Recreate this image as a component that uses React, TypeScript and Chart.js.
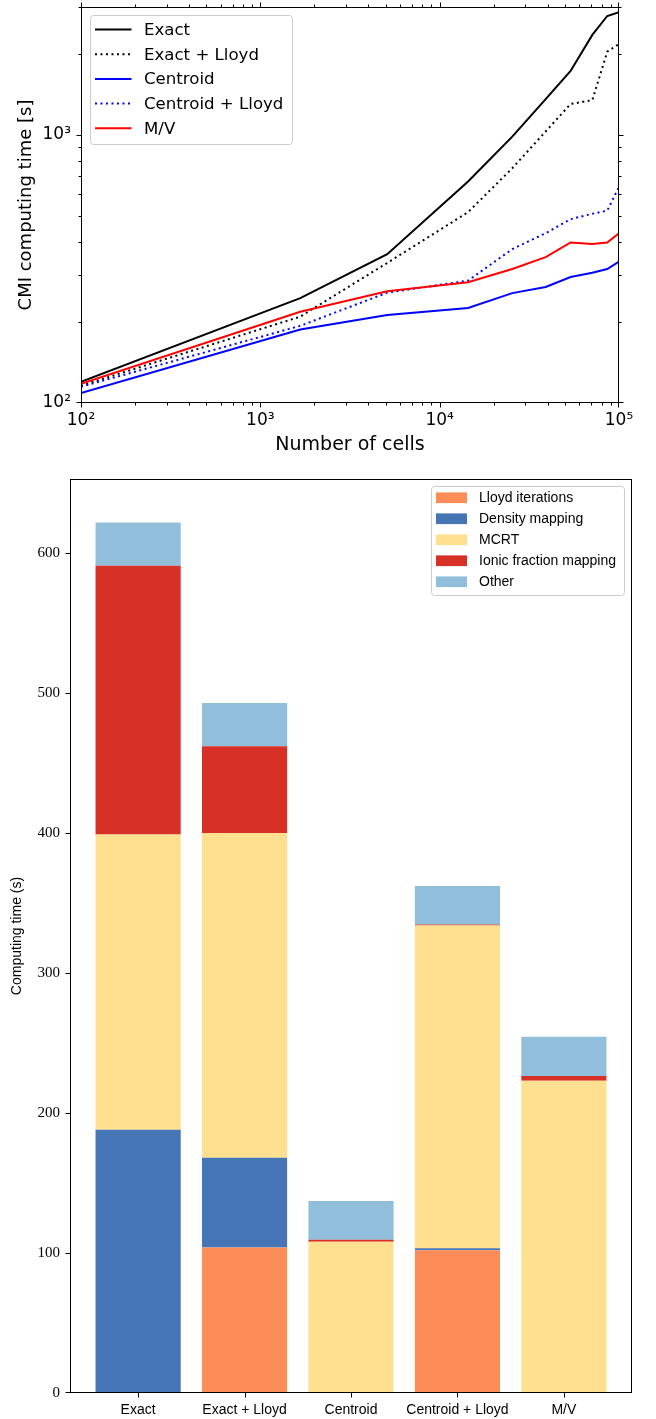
import React, { useEffect, useRef } from 'react';
import { Chart, registerables } from 'chart.js';

Chart.register(...registerables);

// ---------------- Top chart data (log–log lines) ----------------
const cellCounts = [100, 1670, 5100, 14400, 25400, 39000, 53700, 71000, 86000, 100000];
const exactTime = [120, 246, 359, 670, 985, 1360, 1732, 2360, 2777, 2870];
const exactLloydTime = [116, 210, 333, 515, 751, 1030, 1304, 1348, 2044, 2184];
const centroidTime = [109, 188, 213, 226, 257, 271, 295, 306, 316, 337];
const centroidLloydTime = [115, 194, 258, 286, 375, 430, 485, 508, 522, 640];
const mvTime = [118, 219, 261, 282, 316, 350, 397, 392, 397, 430];
const lineLabels = ['Exact', 'Exact + Lloyd', 'Centroid', 'Centroid + Lloyd', 'M/V'];
const xLimits = [100, 100000];
const yLimits = [100, 3000];

// ---------------- Bottom chart data (stacked bars) ----------------
const methods = ['Exact', 'Exact + Lloyd', 'Centroid', 'Centroid + Lloyd', 'M/V'];
const lloydIterations = [0, 104, 0, 102, 0];
const densityMapping = [188, 64, 0, 1.5, 0];
const mcrt = [211, 232, 108, 230.5, 223];
const ionicFractionMapping = [192, 62, 1.4, 0.7, 3.5];
const other = [31, 31, 27.7, 27.5, 28];
const barLabels = ['Lloyd iterations', 'Density mapping', 'MCRT', 'Ionic fraction mapping', 'Other'];
const barTickValues = [0, 100, 200, 300, 400, 500, 600];
const barYMax = 653;

// ---------------- styles ----------------
const lineStyles = [
  { color: '#000000', dash: [] as number[] },
  { color: '#000000', dash: [2, 3.5] },
  { color: '#0000ff', dash: [] as number[] },
  { color: '#0000ff', dash: [2, 3.5] },
  { color: '#ff0000', dash: [] as number[] },
];
const barColors = ['#fc8d59', '#4575b4', '#fee090', '#d73027', '#91bfdb'];

const SUP = '⁰¹²³⁴⁵⁶⁷⁸⁹';
function isPow10(v: number) {
  const l = Math.log10(v);
  return Math.abs(l - Math.round(l)) < 1e-9;
}
function pow10Label(v: number) {
  const e = Math.round(Math.log10(v));
  return '10' + String(e).split('').map((d) => SUP[+d]).join('');
}
function logTickValues(min: number, max: number) {
  const out: number[] = [];
  for (let e = Math.floor(Math.log10(min)); e <= Math.ceil(Math.log10(max)); e++) {
    for (let m = 1; m < 10; m++) {
      const v = m * Math.pow(10, e);
      if (v >= min * (1 - 1e-9) && v <= max * (1 + 1e-9)) out.push(v);
    }
  }
  return out;
}

function roundRectPath(ctx: CanvasRenderingContext2D, x: number, y: number, w: number, h: number, r: number) {
  ctx.beginPath();
  ctx.moveTo(x + r, y);
  ctx.lineTo(x + w - r, y);
  ctx.arcTo(x + w, y, x + w, y + r, r);
  ctx.lineTo(x + w, y + h - r);
  ctx.arcTo(x + w, y + h, x + w - r, y + h, r);
  ctx.lineTo(x + r, y + h);
  ctx.arcTo(x, y + h, x, y + h - r, r);
  ctx.lineTo(x, y + r);
  ctx.arcTo(x, y, x + r, y, r);
  ctx.closePath();
}

function frameBox(a: any) {
  const L = Math.floor(a.left) + 0.5;
  const R = Math.ceil(a.right) - 0.5;
  const T = Math.floor(a.top) + 0.5;
  const B = Math.ceil(a.bottom) - 0.5;
  return { L, R, T, B };
}
function snap(p: number, lo: number, hi: number) {
  return Math.min(Math.max(Math.round(p) + 0.5, lo), hi);
}

const topFramePlugin = {
  id: 'topFrame',
  afterDraw(chart: any) {
    const { ctx, chartArea } = chart;
    const xs = chart.scales.x;
    const ys = chart.scales.y;
    const { L, R, T, B } = frameBox(chartArea);
    ctx.save();
    ctx.strokeStyle = '#000';
    ctx.lineWidth = 1;
    ctx.setLineDash([]);
    ctx.strokeRect(L, T, R - L, B - T);
    ctx.beginPath();
    for (const t of xs.ticks) {
      const len = isPow10(t.value) ? 5 : 3;
      const p = snap(xs.getPixelForValue(t.value), L, R);
      ctx.moveTo(p, B); ctx.lineTo(p, B + len);
      ctx.moveTo(p, T); ctx.lineTo(p, T - len);
    }
    for (const t of ys.ticks) {
      const len = isPow10(t.value) ? 5 : 3;
      const p = snap(ys.getPixelForValue(t.value), T, B);
      ctx.moveTo(L, p); ctx.lineTo(L - len, p);
      ctx.moveTo(R, p); ctx.lineTo(R + len, p);
    }
    ctx.stroke();

    // legend
    const bx = 90.5, by = 15.5, bw = 202, bh = 129;
    roundRectPath(ctx, bx, by, bw, bh, 3);
    ctx.fillStyle = 'rgba(255,255,255,0.8)';
    ctx.fill();
    ctx.strokeStyle = '#cccccc';
    ctx.stroke();
    ctx.font = '16.6px "DejaVu Sans"';
    ctx.textBaseline = 'middle';
    ctx.textAlign = 'left';
    chart.data.datasets.forEach((ds: any, i: number) => {
      const yc = 29.5 + i * 24.7;
      ctx.beginPath();
      ctx.strokeStyle = ds.borderColor;
      ctx.lineWidth = ds.borderWidth;
      ctx.setLineDash(ds.borderDash || []);
      ctx.moveTo(95, yc);
      ctx.lineTo(131.5, yc);
      ctx.stroke();
      ctx.setLineDash([]);
      ctx.fillStyle = '#000';
      ctx.fillText(ds.label, 144, yc + 1);
    });
    ctx.restore();
  },
};

const barFramePlugin = {
  id: 'barFrame',
  afterDraw(chart: any) {
    const { ctx, chartArea } = chart;
    const xs = chart.scales.x;
    const ys = chart.scales.y;
    const { L, R, T, B } = frameBox(chartArea);
    ctx.save();
    ctx.strokeStyle = '#000';
    ctx.lineWidth = 1;
    ctx.strokeRect(L, T, R - L, B - T);
    ctx.beginPath();
    for (const t of xs.ticks) {
      const p = snap(xs.getPixelForValue(t.value), L, R);
      ctx.moveTo(p, B); ctx.lineTo(p, B + 5);
    }
    for (const t of ys.ticks) {
      const p = snap(ys.getPixelForValue(t.value), T, B);
      ctx.moveTo(L, p); ctx.lineTo(L - 5, p);
    }
    ctx.stroke();

    // legend
    const bx = 431.5, by = 21.5, bw = 193, bh = 109;
    roundRectPath(ctx, bx, by, bw, bh, 3);
    ctx.fillStyle = 'rgba(255,255,255,0.8)';
    ctx.fill();
    ctx.strokeStyle = '#cccccc';
    ctx.stroke();
    ctx.font = '14px "Liberation Sans"';
    ctx.textBaseline = 'middle';
    ctx.textAlign = 'left';
    chart.data.datasets.forEach((ds: any, i: number) => {
      const yc = 32.7 + i * 21;
      ctx.fillStyle = ds.backgroundColor;
      ctx.fillRect(436, yc - 5.3, 31, 10.7);
      ctx.fillStyle = '#000';
      ctx.fillText(ds.label, 479, yc + 0.5);
    });
    ctx.restore();
  },
};

export default function App() {
  const topRef = useRef<HTMLCanvasElement>(null);
  const botRef = useRef<HTMLCanvasElement>(null);

  useEffect(() => {
    const lineSeries = [exactTime, exactLloydTime, centroidTime, centroidLloydTime, mvTime];
    const top = new Chart(topRef.current as HTMLCanvasElement, {
      type: 'line',
      data: {
        datasets: lineSeries.map((vals, i) => ({
          label: lineLabels[i],
          data: cellCounts.map((c, j) => ({ x: c, y: vals[j] })),
          borderColor: lineStyles[i].color,
          backgroundColor: lineStyles[i].color,
          borderDash: lineStyles[i].dash,
          borderWidth: 2,
          pointRadius: 0,
          tension: 0,
          fill: false,
          order: lineSeries.length - i,
        })),
      },
      options: {
        responsive: false,
        animation: false,
        devicePixelRatio: 1,
        layout: { padding: { left: 0, right: 37, top: 7, bottom: 0 } },
        plugins: { legend: { display: false }, tooltip: { enabled: false } },
        scales: {
          x: {
            type: 'logarithmic',
            min: xLimits[0],
            max: xLimits[1],
            afterBuildTicks: (s: any) => {
              s.ticks = logTickValues(xLimits[0], xLimits[1]).map((v) => ({ value: v }));
            },
            afterFit: (s: any) => {
              s.height = 62;
              s.paddingLeft = 0;
              s.paddingRight = 0;
            },
            grid: { display: false, drawTicks: false, tickLength: 0 },
            border: { display: false },
            ticks: {
              autoSkip: false,
              maxRotation: 0,
              minRotation: 0,
              padding: 7,
              color: '#000',
              font: { family: 'DejaVu Sans', size: 17 },
              callback: (v: any) => (isPow10(Number(v)) ? pow10Label(Number(v)) : ''),
            },
            title: {
              display: true,
              text: 'Number of cells',
              color: '#000',
              font: { family: 'DejaVu Sans', size: 19 },
              padding: { top: 0, bottom: 9 },
            },
          },
          y: {
            type: 'logarithmic',
            min: yLimits[0],
            max: yLimits[1],
            afterBuildTicks: (s: any) => {
              s.ticks = logTickValues(yLimits[0], yLimits[1]).map((v) => ({ value: v }));
            },
            afterFit: (s: any) => {
              s.width = 81;
              s.paddingTop = 0;
              s.paddingBottom = 0;
            },
            grid: { display: false, drawTicks: false, tickLength: 0 },
            border: { display: false },
            ticks: {
              autoSkip: false,
              padding: 10,
              color: '#000',
              font: { family: 'DejaVu Sans', size: 17 },
              callback: (v: any) => (isPow10(Number(v)) ? pow10Label(Number(v)) : ''),
            },
            title: {
              display: true,
              text: 'CMI computing time [s]',
              color: '#000',
              font: { family: 'DejaVu Sans', size: 18 },
              padding: { top: 16, bottom: 0 },
            },
          },
        },
      },
      plugins: [topFramePlugin],
    } as any);

    const barSeries = [lloydIterations, densityMapping, mcrt, ionicFractionMapping, other];
    const bottom = new Chart(botRef.current as HTMLCanvasElement, {
      type: 'bar',
      data: {
        datasets: barSeries.map((vals, i) => ({
          label: barLabels[i],
          data: vals.map((v, j) => ({ x: j, y: v })),
          backgroundColor: barColors[i],
          borderWidth: 0,
          categoryPercentage: 1,
          barPercentage: 0.8,
          stack: 'time',
        })),
      },
      options: {
        responsive: false,
        animation: false,
        devicePixelRatio: 1,
        layout: { padding: { left: 0, right: 24, top: 14, bottom: 0 } },
        plugins: { legend: { display: false }, tooltip: { enabled: false } },
        scales: {
          x: {
            type: 'linear',
            min: -0.64,
            max: methods.length - 1 + 0.64,
            offset: false,
            stacked: true,
            afterBuildTicks: (s: any) => {
              s.ticks = methods.map((_, i) => ({ value: i }));
            },
            afterFit: (s: any) => {
              s.height = 26;
              s.paddingLeft = 0;
              s.paddingRight = 0;
            },
            grid: { display: false, drawTicks: false, tickLength: 0 },
            border: { display: false },
            ticks: {
              autoSkip: false,
              maxRotation: 0,
              minRotation: 0,
              padding: 9,
              color: '#000',
              font: { family: 'Liberation Sans', size: 14 },
              callback: (v: any) => methods[Math.round(Number(v))] ?? '',
            },
          },
          y: {
            stacked: true,
            min: 0,
            max: barYMax,
            afterBuildTicks: (s: any) => {
              s.ticks = barTickValues.map((v) => ({ value: v }));
            },
            afterFit: (s: any) => {
              s.width = 70;
              s.paddingTop = 0;
              s.paddingBottom = 0;
            },
            grid: { display: false, drawTicks: false, tickLength: 0 },
            border: { display: false },
            ticks: {
              autoSkip: false,
              padding: 10,
              color: '#000',
              font: { family: 'Liberation Serif', size: 15 },
              callback: (v: any) => String(v),
            },
            title: {
              display: true,
              text: 'Computing time (s)',
              color: '#000',
              font: { family: 'Liberation Sans', size: 14 },
              padding: { top: 9, bottom: 0 },
            },
          },
        },
      },
      plugins: [barFramePlugin],
    } as any);

    return () => {
      top.destroy();
      bottom.destroy();
    };
  }, []);

  return (
    <div style={{ position: 'absolute', left: 0, top: 0, width: 656, height: 1419, background: '#fff' }}>
      <canvas ref={topRef} width={656} height={465} style={{ display: 'block', width: 656, height: 465 }} />
      <canvas ref={botRef} width={656} height={954} style={{ display: 'block', width: 656, height: 954 }} />
    </div>
  );
}
